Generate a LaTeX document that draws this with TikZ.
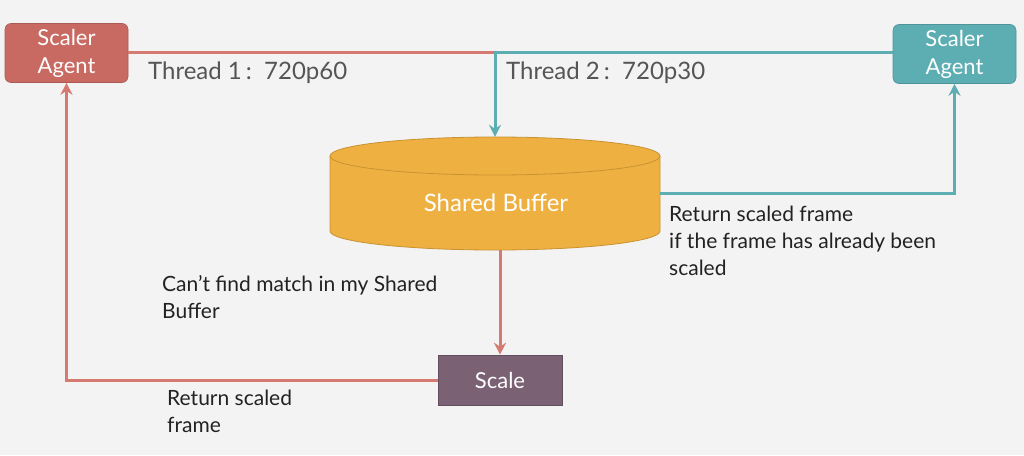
\documentclass[tikz,border=0pt]{standalone}
\usepackage{fontspec}
\setmainfont{Lato}
\usetikzlibrary{arrows.meta,calc}
\definecolor{bg}{HTML}{F3F3F3}
\definecolor{agred}{HTML}{C96A62}
\definecolor{agredline}{HTML}{D57A70}
\definecolor{agteal}{HTML}{5DAEB3}
\definecolor{bufy}{HTML}{EFB042}
\definecolor{bufedge}{HTML}{C99230}
\definecolor{scalec}{HTML}{7A6174}
\definecolor{lbl}{HTML}{555555}
\definecolor{txt}{HTML}{222222}
\tikzset{
  agent/.style={rounded corners=6pt, minimum width=123pt, minimum height=59pt, align=center, text=white, font=\fontsize{22}{28}\selectfont, inner sep=0pt},
  redl/.style={draw=agredline, line width=3pt},
  teall/.style={draw=agteal, line width=3pt},
  tip/.style={-{Stealth[length=12pt,width=12pt,inset=4pt]}},
  lab/.style={text=lbl, font=\fontsize{24}{28}\selectfont, anchor=west, inner sep=0pt},
  note/.style={text=txt, font=\fontsize{21}{27}\selectfont, anchor=north west, align=left, inner sep=0pt},
}
\begin{document}
\begin{tikzpicture}[x=1pt,y=-1pt]
\useasboundingbox[fill=bg] (0,0) rectangle (1024,455);
% agents
\node[agent, fill=agred, draw=agred!85!black, line width=0.6pt] (la) at (66.5,53) {Scaler\\Agent};
\node[agent, fill=agteal, draw=agteal!85!black, line width=0.6pt] (ra) at (954.5,54) {Scaler\\Agent};
\coordinate (j) at (495,52);
% cylinder
\node[minimum width=330pt, minimum height=113pt, inner sep=0pt] (buf) at (495,193.5) {};
\fill[bufy] (330,156) -- (330,231) arc[start angle=180,end angle=0,x radius=165,y radius=19] -- (660,156) arc[start angle=0,end angle=-180,x radius=165,y radius=19] -- cycle;
\draw[bufedge, line width=0.8pt] (330,156) -- (330,231) arc[start angle=180,end angle=0,x radius=165,y radius=19] -- (660,156);
\draw[bufedge, line width=0.8pt] (495,156) ellipse[x radius=165,y radius=19];
\node[text=white, font=\fontsize{24}{28}\selectfont] (buft) at (496,203) {Shared Buffer};
% scale
\node[fill=scalec, draw=scalec!80!black, line width=0.6pt, minimum width=124pt, minimum height=50pt, text=white, font=\fontsize{22}{26}\selectfont, inner sep=0pt] (sc) at (500,380) {Scale};
% connectors
\draw[redl] (la.east |- j) -- (j);
\draw[teall, tip] (ra.west |- j) -- (j) -- (buf.north);
\draw[teall, tip] (buf.east) -| (ra.south);
\draw[redl, tip] (buf.south -| sc.north) -- (sc.north);
\draw[redl, tip] (sc.west) -| (la.south);
% labels
\node[lab] (t1) at (148,73) {Thread 1\,:\ \ 720p60};
\node[lab] (t2) at (506,73) {Thread 2\,:\ \ 720p30};
\node[note] (n1) at (669,206) {Return scaled frame\\if the frame has already been\\scaled};
\node[note] (n2) at (162,275) {Can’t find match in my Shared\\Buffer};
\node[note] (n3) at (167,390) {Return scaled\\frame};
\end{tikzpicture}
\end{document}
